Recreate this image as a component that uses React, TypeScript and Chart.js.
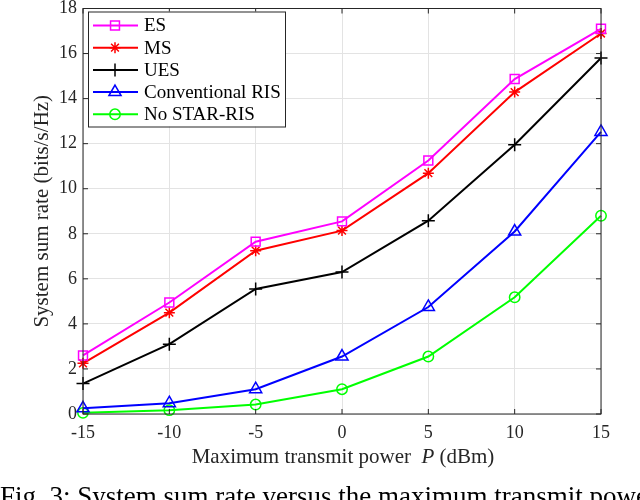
import { useEffect, useRef } from 'react'
import { Chart, registerables } from 'chart.js'
import { drawPoint } from 'chart.js/helpers'

Chart.register(...registerables)

const powers = [-15, -10, -5, 0, 5, 10, 15]
const esRate = [2.6, 4.95, 7.65, 8.55, 11.25, 14.87, 17.1]
const msRate = [2.25, 4.5, 7.25, 8.14, 10.69, 14.29, 16.89]
const uesRate = [1.35, 3.1, 5.55, 6.3, 8.58, 11.95, 15.8]
const convRisRate = [0.25, 0.48, 1.1, 2.55, 4.75, 8.1, 12.52]
const noStarRate = [0.05, 0.17, 0.42, 1.1, 2.55, 5.18, 8.8]
const xTicks = [-15, -10, -5, 0, 5, 10, 15]
const yTicks = [0, 2, 4, 6, 8, 10, 12, 14, 16, 18]

const SERIF = '"Liberation Serif", "DejaVu Serif", serif'
const AXIS = '#262626'

// legend box drawn inside the plot, top-left (matlab style)
const insideLegend = {
  id: 'insideLegend',
  afterDraw(c: any) {
    const { ctx, chartArea } = c
    const x0 = chartArea.left + 5
    const y0 = chartArea.top + 3
    const w = 197, h = 115
    ctx.save()
    ctx.fillStyle = '#fff'
    ctx.fillRect(x0, y0, w, h)
    ctx.strokeStyle = AXIS
    ctx.lineWidth = 1
    ctx.strokeRect(x0 + 0.5, y0 + 0.5, w, h)
    ctx.font = `19px ${SERIF}`
    ctx.textBaseline = 'middle'
    c.data.datasets.forEach((ds: any, i: number) => {
      const y = y0 + 14 + i * 22.2
      ctx.strokeStyle = ds.borderColor
      ctx.lineWidth = 2
      ctx.beginPath()
      ctx.moveTo(x0 + 5, y)
      ctx.lineTo(x0 + 50, y)
      ctx.stroke()
      ctx.lineWidth = 1.5
      ctx.fillStyle = 'rgba(0,0,0,0)'
      drawPoint(ctx, { pointStyle: ds.pointStyle, radius: ds.pointRadius, rotation: 0, borderWidth: 1.5 }, x0 + 27, y)
      ctx.fillStyle = '#000'
      ctx.fillText(ds.label, x0 + 56, y + 1)
    })
    ctx.restore()
  },
}

// box round the axes and inward tick marks on all four sides
const boxTicks = {
  id: 'boxTicks',
  afterDatasetsDraw(c: any) {
    const { ctx, chartArea: a, scales } = c
    ctx.save()
    ctx.strokeStyle = AXIS
    ctx.lineWidth = 1
    ctx.strokeRect(a.left, a.top, a.right - a.left, a.bottom - a.top)
    ctx.beginPath()
    xTicks.forEach(v => {
      const x = scales.x.getPixelForValue(v)
      ctx.moveTo(x, a.bottom); ctx.lineTo(x, a.bottom - 5)
      ctx.moveTo(x, a.top); ctx.lineTo(x, a.top + 5)
    })
    yTicks.forEach(v => {
      const y = scales.y.getPixelForValue(v)
      ctx.moveTo(a.left, y); ctx.lineTo(a.left + 5, y)
      ctx.moveTo(a.right, y); ctx.lineTo(a.right - 5, y)
    })
    ctx.stroke()
    ctx.restore()
  },
}

export default function App() {
  const ref = useRef<HTMLCanvasElement>(null)

  useEffect(() => {
    if (!ref.current) return
    const mk = (label: string, data: number[], color: string, pointStyle: string, r: number) => ({
      label, data: data.map((y, i) => ({ x: powers[i], y })),
      borderColor: color, backgroundColor: 'rgba(0,0,0,0)',
      pointStyle, pointRadius: r, pointBorderWidth: 1.5, borderWidth: 2, tension: 0,
      pointBorderColor: color, pointBackgroundColor: 'rgba(0,0,0,0)', clip: false,
    })
    const chart = new Chart(ref.current, {
      type: 'line',
      data: {
        datasets: [
          mk('ES', esRate, '#ff00ff', 'rect', 6.3),
          mk('MS', msRate, '#ff0000', 'star', 5.5),
          mk('UES', uesRate, '#000000', 'cross', 6.5),
          mk('Conventional RIS', convRisRate, '#0000ff', 'triangle', 7),
          mk('No STAR-RIS', noStarRate, '#00ff00', 'circle', 5.2),
        ] as any,
      },
      options: {
        animation: false,
        responsive: true,
        maintainAspectRatio: false,
        layout: { padding: { top: 7, right: 39, left: 30, bottom: 0 } },
        plugins: { legend: { display: false }, tooltip: { enabled: false } },
        scales: {
          x: {
            type: 'linear', min: -15, max: 15,
            afterBuildTicks: (s: any) => { s.ticks = xTicks.map(v => ({ value: v })) },
            afterFit: (s: any) => { s.height = 61; s.paddingLeft = 0; s.paddingRight = 0 },
            grid: { color: '#e3e3e3', drawTicks: false },
            border: { display: false },
            ticks: { color: AXIS, font: { family: SERIF, size: 18 }, padding: 8, maxRotation: 0, callback: (v: any) => String(v) },
          },
          y: {
            type: 'linear', min: 0, max: 18,
            afterBuildTicks: (s: any) => { s.ticks = yTicks.map(v => ({ value: v })) },
            afterFit: (s: any) => { s.width = 53; s.paddingTop = 0; s.paddingBottom = 0 },
            grid: { color: '#e3e3e3', drawTicks: false },
            border: { display: false },
            ticks: { color: AXIS, font: { family: SERIF, size: 18 }, padding: 6 },
            title: { display: true, text: 'System sum rate (bits/s/Hz)', color: AXIS, font: { family: SERIF, size: 21 }, padding: 0 },
          },
        },
      },
      plugins: [boxTicks, insideLegend],
    })
    return () => chart.destroy()
  }, [])

  return (
    <div style={{ position: 'absolute', left: 0, top: 0, width: 640, height: 500, overflow: 'hidden', background: '#fff', fontFamily: SERIF }}>
      <div style={{ position: 'absolute', left: 0, top: 0, width: 640, height: 475 }}>
        <canvas ref={ref} />
      </div>
      <div style={{ position: 'absolute', left: 0, width: 640, top: 444, textAlign: 'center', paddingLeft: 46, boxSizing: 'border-box', fontSize: 21, color: AXIS, whiteSpace: 'pre' }}>
        {'Maximum transmit power  '}<i>P</i>{' (dBm)'}
      </div>
      <div style={{ position: 'absolute', left: 0, top: 481, fontSize: 27, whiteSpace: 'nowrap', color: '#000' }}>
        Fig. 3: System sum rate versus the maximum transmit power
      </div>
    </div>
  )
}
